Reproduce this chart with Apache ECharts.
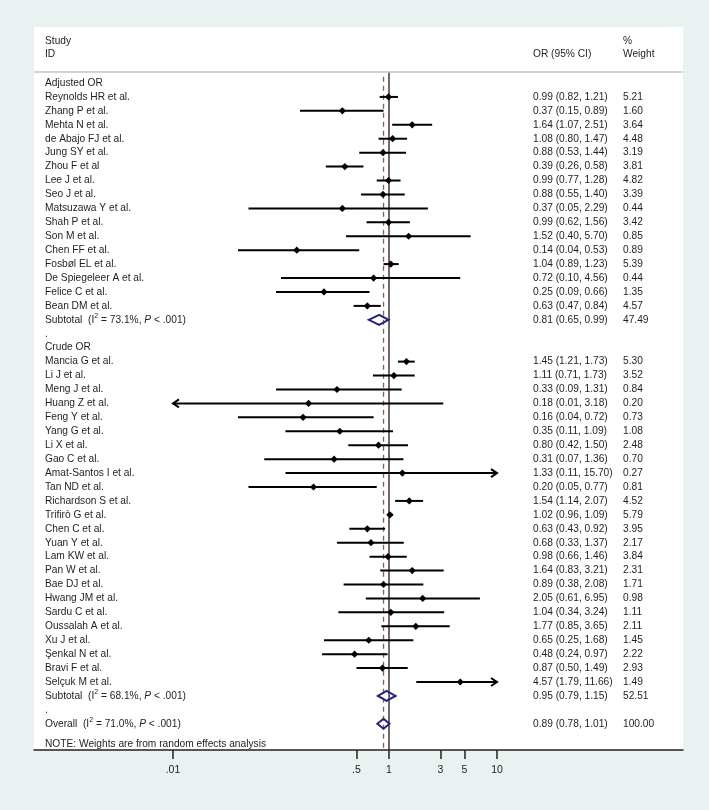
<!DOCTYPE html>
<html>
<head>
<meta charset="utf-8">
<script src="https://cdn.jsdelivr.net/npm/echarts@6/dist/echarts.min.js"></script>
<style>
html,body{margin:0;padding:0;background:#eaf1f1;}
#chart{width:709px;height:810px;}
</style>
</head>
<body>
<div id="chart"></div>
<script>
// ---------------- DATA ----------------
const groupTitles = ['Adjusted OR', 'Crude OR'];

const adjStudies = ['Reynolds HR et al.', 'Zhang P et al.', 'Mehta N et al.', 'de Abajo FJ et al.', 'Jung SY et al.', 'Zhou F et al', 'Lee J et al.', 'Seo J et al.', 'Matsuzawa Y et al.', 'Shah P et al.', 'Son M et al.', 'Chen FF et al.', 'Fosbøl EL et al.', 'De Spiegeleer A et al.', 'Felice C et al.', 'Bean DM et al.'];
const adjOR     = [0.99, 0.37, 1.64, 1.08, 0.88, 0.39, 0.99, 0.88, 0.37, 0.99, 1.52, 0.14, 1.04, 0.72, 0.25, 0.63];
const adjLower  = [0.82, 0.15, 1.07, 0.80, 0.53, 0.26, 0.77, 0.55, 0.05, 0.62, 0.40, 0.04, 0.89, 0.10, 0.09, 0.47];
const adjUpper  = [1.21, 0.89, 2.51, 1.47, 1.44, 0.58, 1.28, 1.40, 2.29, 1.56, 5.70, 0.53, 1.23, 4.56, 0.66, 0.84];
const adjWeight = [5.21, 1.60, 3.64, 4.48, 3.19, 3.81, 4.82, 3.39, 0.44, 3.42, 0.85, 0.89, 5.39, 0.44, 1.35, 4.57];

const crudeStudies = ['Mancia G et al.', 'Li J et al.', 'Meng J et al.', 'Huang Z et al.', 'Feng Y et al.', 'Yang G et al.', 'Li X et al.', 'Gao C et al.', 'Amat-Santos I et al.', 'Tan ND et al.', 'Richardson S et al.', 'Trifirò G et al.', 'Chen C et al.', 'Yuan Y et al.', 'Lam KW et al.', 'Pan W et al.', 'Bae DJ et al.', 'Hwang JM et al.', 'Sardu C et al.', 'Oussalah A et al.', 'Xu J et al.', 'Şenkal N et al.', 'Bravi F et al.', 'Selçuk M et al.'];
const crudeOR     = [1.45, 1.11, 0.33, 0.18, 0.16, 0.35, 0.80, 0.31, 1.33, 0.20, 1.54, 1.02, 0.63, 0.68, 0.98, 1.64, 0.89, 2.05, 1.04, 1.77, 0.65, 0.48, 0.87, 4.57];
const crudeLower  = [1.21, 0.71, 0.09, 0.01, 0.04, 0.11, 0.42, 0.07, 0.11, 0.05, 1.14, 0.96, 0.43, 0.33, 0.66, 0.83, 0.38, 0.61, 0.34, 0.85, 0.25, 0.24, 0.50, 1.79];
const crudeUpper  = [1.73, 1.73, 1.31, 3.18, 0.72, 1.09, 1.50, 1.36, 15.70, 0.77, 2.07, 1.09, 0.92, 1.37, 1.46, 3.21, 2.08, 6.95, 3.24, 3.65, 1.68, 0.97, 1.49, 11.66];
const crudeWeight = [5.30, 3.52, 0.84, 0.20, 0.73, 1.08, 2.48, 0.70, 0.27, 0.81, 4.52, 5.79, 3.95, 2.17, 3.84, 2.31, 1.71, 0.98, 1.11, 2.11, 1.45, 2.22, 2.93, 1.49];

const pooledLabels = ['Subtotal', 'Subtotal', 'Overall'];
const pooledI2     = ['73.1%', '68.1%', '71.0%'];
const pooledP      = ['.001', '.001', '.001'];
const pooledOR     = [0.81, 0.95, 0.89];
const pooledLower  = [0.65, 0.79, 0.78];
const pooledUpper  = [0.99, 1.15, 1.01];
const pooledWeight = [47.49, 52.51, 100.00];

const tickValues = [0.01, 0.5, 1, 3, 5, 10];
const tickLabels = ['.01', '.5', '1', '3', '5', '10'];
const plotMin = 0.01, plotMax = 10;   // CI lines beyond these get arrows

// ---------------- LAYOUT / STYLE ----------------
const FF = '"Liberation Sans", Arial, sans-serif';
const FS = 10.2;
const TEXT = '#1e1e1e';
const COL_LABEL = 45, COL_CI = 533, COL_W = 623;
const PANEL = {left: 34, top: 27, width: 649, height: 723};

// rows (row index -> vertical position via y axis)
const rows = [];
let r = 0;
function addGroup(gi, names, ors, los, his, ws) {
  rows.push({kind: 'title', label: groupTitles[gi], y: r++});
  names.forEach((n, i) => rows.push({kind: 'study', label: n, or: ors[i], lo: los[i], hi: his[i], w: ws[i], y: r++}));
  rows.push({kind: 'pooled', pi: gi, y: r++});
  rows.push({kind: 'dot', label: '.', y: r++});
}
addGroup(0, adjStudies, adjOR, adjLower, adjUpper, adjWeight);
addGroup(1, crudeStudies, crudeOR, crudeLower, crudeUpper, crudeWeight);
rows.push({kind: 'pooled', pi: 2, y: r++});
const noteRow = r + 0.45;

const yMin = -4.02, yMax = 47.88;
const headerLineRow = -0.79;
const dashTopRow = -0.45;

const fmt = v => v.toFixed(2);

function renderText(params, api) {
  const row = rows[params.dataIndex];
  const y = api.coord([1, row.y])[1];
  const base = {fill: TEXT, fontSize: FS, fontFamily: FF, verticalAlign: 'middle', align: 'left'};
  const els = [];
  if (row.kind === 'pooled') {
    const i = row.pi;
    els.push({type: 'text', style: Object.assign({}, base, {
      x: COL_LABEL, y: y,
      text: '{n|' + pooledLabels[i] + '  (I}{s|2}{n| = ' + pooledI2[i] + ', }{i|P}{n| < ' + pooledP[i] + ')}',
      rich: {
        n: {fontSize: FS, fontFamily: FF, fill: TEXT, lineHeight: 14},
        s: {fontSize: 7, fontFamily: FF, fill: TEXT, verticalAlign: 'top', lineHeight: 8},
        i: {fontSize: FS, fontFamily: FF, fill: TEXT, fontStyle: 'italic', lineHeight: 14}
      }
    })});
    els.push({type: 'text', style: Object.assign({}, base, {x: COL_CI, y: y, text: fmt(pooledOR[i]) + ' (' + fmt(pooledLower[i]) + ', ' + fmt(pooledUpper[i]) + ')'})});
    els.push({type: 'text', style: Object.assign({}, base, {x: COL_W, y: y, text: fmt(pooledWeight[i])})});
  } else {
    els.push({type: 'text', style: Object.assign({}, base, {x: COL_LABEL, y: y, text: row.label})});
    if (row.kind === 'study') {
      els.push({type: 'text', style: Object.assign({}, base, {x: COL_CI, y: y, text: fmt(row.or) + ' (' + fmt(row.lo) + ', ' + fmt(row.hi) + ')'})});
      els.push({type: 'text', style: Object.assign({}, base, {x: COL_W, y: y, text: fmt(row.w)})});
    }
  }
  return {type: 'group', children: els};
}

function renderStudy(params, api) {
  const or = api.value(0), lo = api.value(1), hi = api.value(2), ry = api.value(3);
  const p0 = api.coord([Math.max(lo, plotMin), ry]);
  const p1 = api.coord([Math.min(hi, plotMax), ry]);
  const pm = api.coord([or, ry]);
  const lw = 2;
  const ch = [{type: 'line', shape: {x1: p0[0], y1: p0[1], x2: p1[0], y2: p1[1]}, style: {stroke: '#000', lineWidth: lw}}];
  if (lo <= plotMin) {
    ch.push({type: 'polyline', shape: {points: [[p0[0] + 6, p0[1] - 4], [p0[0], p0[1]], [p0[0] + 6, p0[1] + 4]]}, style: {stroke: '#000', lineWidth: lw, fill: null}});
  }
  if (hi >= plotMax) {
    ch.push({type: 'polyline', shape: {points: [[p1[0] - 6, p1[1] - 4], [p1[0], p1[1]], [p1[0] - 6, p1[1] + 4]]}, style: {stroke: '#000', lineWidth: lw, fill: null}});
  }
  const d = 3.6;
  ch.push({type: 'polygon', shape: {points: [[pm[0] - d, pm[1]], [pm[0], pm[1] - d], [pm[0] + d, pm[1]], [pm[0], pm[1] + d]]}, style: {fill: '#000', stroke: null}});
  return {type: 'group', children: ch};
}

function renderPooled(params, api) {
  const or = api.value(0), lo = api.value(1), hi = api.value(2), ry = api.value(3);
  const pl = api.coord([lo, ry]), pm = api.coord([or, ry]), ph = api.coord([hi, ry]);
  const h = 5;
  return {type: 'polygon', shape: {points: [[pl[0], pl[1]], [pm[0], pm[1] - h], [ph[0], ph[1]], [pm[0], pm[1] + h]]},
    style: {fill: 'none', stroke: '#23237a', lineWidth: 2}};
}

function renderRefLines(params, api) {
  const a0 = api.coord([1, headerLineRow]), a1 = api.coord([1, yMax]);
  const b0 = api.coord([pooledOR[2], dashTopRow]), b1 = api.coord([pooledOR[2], yMax]);
  return {type: 'group', children: [
    {type: 'line', shape: {x1: a0[0], y1: a0[1], x2: a1[0], y2: a1[1]}, style: {stroke: '#3a3a3a', lineWidth: 1.5}},
    {type: 'line', shape: {x1: b0[0], y1: b0[1], x2: b1[0], y2: b1[1]}, style: {stroke: '#c0404c', lineWidth: 1.3, lineDash: [5, 4]}}
  ]};
}

const studyRows = rows.filter(d => d.kind === 'study');
const pooledRows = rows.filter(d => d.kind === 'pooled');

const chart = echarts.init(document.getElementById('chart'), null, {renderer: 'canvas'});
chart.setOption({
  backgroundColor: '#eaf1f1',
  animation: false,
  grid: {left: PANEL.left, top: PANEL.top, width: PANEL.width, height: PANEL.height, show: true, backgroundColor: '#ffffff', borderWidth: 0},
  xAxis: {
    type: 'log', logBase: 10,
    min: Math.pow(10, -355 / 108), max: Math.pow(10, 294 / 108),
    splitLine: {show: false},
    axisLine: {show: true, onZero: false, lineStyle: {color: '#222', width: 1.5}},
    axisTick: {show: true, customValues: tickValues, length: 9, inside: false, lineStyle: {color: '#222', width: 1.5}},
    axisLabel: {show: true, customValues: tickValues, margin: 15, color: TEXT, fontSize: 10.5, fontFamily: FF,
      formatter: v => { const k = tickValues.findIndex(t => Math.abs(t - v) < 1e-9); return k >= 0 ? tickLabels[k] : ''; }},
    minorTick: {show: false}
  },
  yAxis: {type: 'value', inverse: true, min: yMin, max: yMax, show: false, splitLine: {show: false}},
  graphic: [
    {type: 'text', left: COL_LABEL, top: 42 - 6, style: {text: 'Study', fill: TEXT, fontSize: FS, fontFamily: FF}},
    {type: 'text', left: COL_LABEL, top: 55 - 6, style: {text: 'ID', fill: TEXT, fontSize: FS, fontFamily: FF}},
    {type: 'text', left: COL_CI, top: 55 - 6, style: {text: 'OR (95% CI)', fill: TEXT, fontSize: FS, fontFamily: FF}},
    {type: 'text', left: COL_W, top: 42 - 6, style: {text: '%', fill: TEXT, fontSize: FS, fontFamily: FF}},
    {type: 'text', left: COL_W, top: 55 - 6, style: {text: 'Weight', fill: TEXT, fontSize: FS, fontFamily: FF}},
    {type: 'line', z: 10, shape: {x1: PANEL.left, y1: 72, x2: PANEL.left + PANEL.width, y2: 72}, style: {stroke: '#c4c4c4', lineWidth: 1.5}}
  ],
  series: [
    {type: 'custom', name: 'ref', silent: true, clip: false, z: 2, renderItem: renderRefLines, data: [[1, 0]]},
    {type: 'custom', name: 'studies', silent: true, clip: false, z: 3, renderItem: renderStudy,
      encode: {x: [0, 1, 2], y: 3}, data: studyRows.map(d => [d.or, d.lo, d.hi, d.y])},
    {type: 'custom', name: 'pooled', silent: true, clip: false, z: 4, renderItem: renderPooled,
      encode: {x: [0, 1, 2], y: 3}, data: pooledRows.map(d => [pooledOR[d.pi], pooledLower[d.pi], pooledUpper[d.pi], d.y])},
    {type: 'custom', name: 'text', silent: true, clip: false, z: 5, renderItem: renderText,
      encode: {x: 0, y: 1}, data: rows.map(d => [1, d.y])},
    {type: 'custom', name: 'note', silent: true, clip: false, z: 5,
      renderItem: (p, api) => ({type: 'text', style: {x: COL_LABEL, y: api.coord([1, noteRow])[1], text: 'NOTE: Weights are from random effects analysis', fill: TEXT, fontSize: FS, fontFamily: FF, verticalAlign: 'middle'}}),
      data: [[1, noteRow]]}
  ]
});
</script>
</body>
</html>
